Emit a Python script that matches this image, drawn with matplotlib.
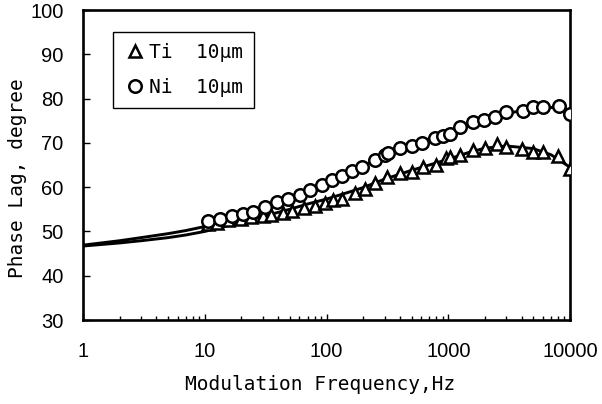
import matplotlib
matplotlib.use("Agg")
import matplotlib.pyplot as plt
from matplotlib.ticker import LogLocator, NullFormatter, FixedLocator, FixedFormatter
from matplotlib.lines import Line2D

# ---- data ----
ni_freq = [10.6, 13.3, 16.7, 20.6, 24.9, 31.1, 39.2, 48.3, 60.6, 73.3, 92.1, 111, 134, 162, 195, 250, 301,
           320, 400, 500, 610, 780, 900, 1030, 1250, 1600, 1950, 2400, 3000, 4100, 5000, 6000, 8100, 10000]
ni_phase = [52.3, 52.9, 53.5, 53.9, 54.4, 55.5, 56.6, 57.3, 58.2, 59.3, 60.5, 61.6, 62.5, 63.6, 64.5, 66.1, 67.2,
            67.7, 68.8, 69.3, 70.0, 71.0, 71.5, 72.0, 73.6, 74.7, 75.1, 75.8, 77.0, 77.2, 78.0, 78.0, 78.4, 76.5]

ti_freq = [10.6, 12.6, 15.5, 20, 24, 30, 35, 44, 52, 65, 80, 97, 113, 134, 171, 207, 250, 315,
           400, 500, 620, 800, 960, 1030, 1250, 1600, 2000, 2500, 3000, 4000, 5000, 6000, 7900, 10000]
ti_phase = [51.6, 52.0, 52.5, 52.8, 53.2, 53.5, 53.8, 54.2, 54.6, 55.2, 55.8, 56.4, 57.0, 57.3, 58.7, 59.6, 60.9, 62.3,
            63.2, 63.4, 64.5, 65.0, 66.5, 66.8, 67.2, 68.4, 68.8, 69.7, 69.0, 68.6, 68.0, 68.0, 67.0, 64.2]

fit_freq = [1, 2, 3, 5, 7, 10, 15, 20, 30, 50, 70, 100, 150, 200, 300, 500, 700, 1000, 1500, 2000, 3000, 5000, 7000, 10000]
ni_fit = [46.9, 47.9, 48.6, 49.5, 50.2, 51.1, 52.4, 53.5, 55.1, 57.4, 59.1, 61.0, 63.3, 64.8, 67.0, 69.5, 70.9, 72.2,
          74.0, 75.2, 76.6, 77.8, 78.0, 77.3]
ti_fit = [46.7, 47.4, 47.9, 48.6, 49.2, 50.0, 51.2, 52.1, 53.4, 55.0, 56.2, 57.3, 58.8, 59.9, 61.8, 63.8, 65.0, 66.3,
          67.9, 68.8, 69.3, 68.7, 67.3, 64.5]

x_ticks = [1, 10, 100, 1000, 10000]
x_ticklabels = ["1", "10", "100", "1000", "10000"]
y_ticks = [30, 40, 50, 60, 70, 80, 90, 100]
legend_labels = ["Ti  10μm", "Ni  10μm"]

# ---- figure ----
fig = plt.figure(figsize=(6.02, 4.04), dpi=100)
ax = fig.add_axes([83/602, 84/404, 487/602, 310/404])

ax.plot(fit_freq, ni_fit, color="black", lw=2.1, zorder=2)
ax.plot(fit_freq, ti_fit, color="black", lw=2.1, zorder=2)
mk = dict(linestyle="none", ms=9, mfc="white", mec="black", mew=1.8)
ax.plot(ti_freq, ti_phase, marker="^", zorder=3, **mk)
ax.plot(ni_freq, ni_phase, marker="o", zorder=3, **mk)

ax.set_xscale("log")
ax.set_xlim(1, 10000)
ax.set_ylim(30, 100)

ax.xaxis.set_major_locator(FixedLocator(x_ticks))
ax.xaxis.set_major_formatter(FixedFormatter(x_ticklabels))
ax.xaxis.set_minor_locator(LogLocator(base=10, subs=range(2, 10), numticks=20))
ax.xaxis.set_minor_formatter(NullFormatter())
ax.set_yticks(y_ticks)

for lab in ax.get_xticklabels() + ax.get_yticklabels():
    lab.set_fontfamily("Liberation Sans")
    lab.set_fontsize(14.5)

ax.tick_params(axis="x", which="major", direction="in", length=4, width=1, pad=16)
ax.tick_params(axis="x", which="minor", direction="in", length=3, width=1)
ax.tick_params(axis="y", which="major", direction="in", length=5, width=1, pad=14)

for s in ax.spines.values():
    s.set_linewidth(1.9)

fig.text(320/602, 1 - 385/404, "Modulation Frequency,Hz", ha="center", va="center",
         family="DejaVu Sans Mono", fontsize=14)
fig.text(18/602, 1 - 178/404, "Phase Lag, degree", ha="center", va="center", rotation=90,
         family="DejaVu Sans Mono", fontsize=14)

handles = [Line2D([], [], marker="^", **mk), Line2D([], [], marker="o", **mk)]
leg = ax.legend(handles, legend_labels, loc="upper left",
                bbox_to_anchor=((113 - 83) / 487, (320 - 32) / 310),
                frameon=True, fancybox=False, edgecolor="black", framealpha=1,
                handlelength=1.2, handletextpad=0.1, borderpad=0.55, labelspacing=0.85,
                borderaxespad=0, prop={"family": "DejaVu Sans Mono", "size": 14})
leg.get_frame().set_linewidth(1.0)

fig.savefig("out.png", dpi=100)
